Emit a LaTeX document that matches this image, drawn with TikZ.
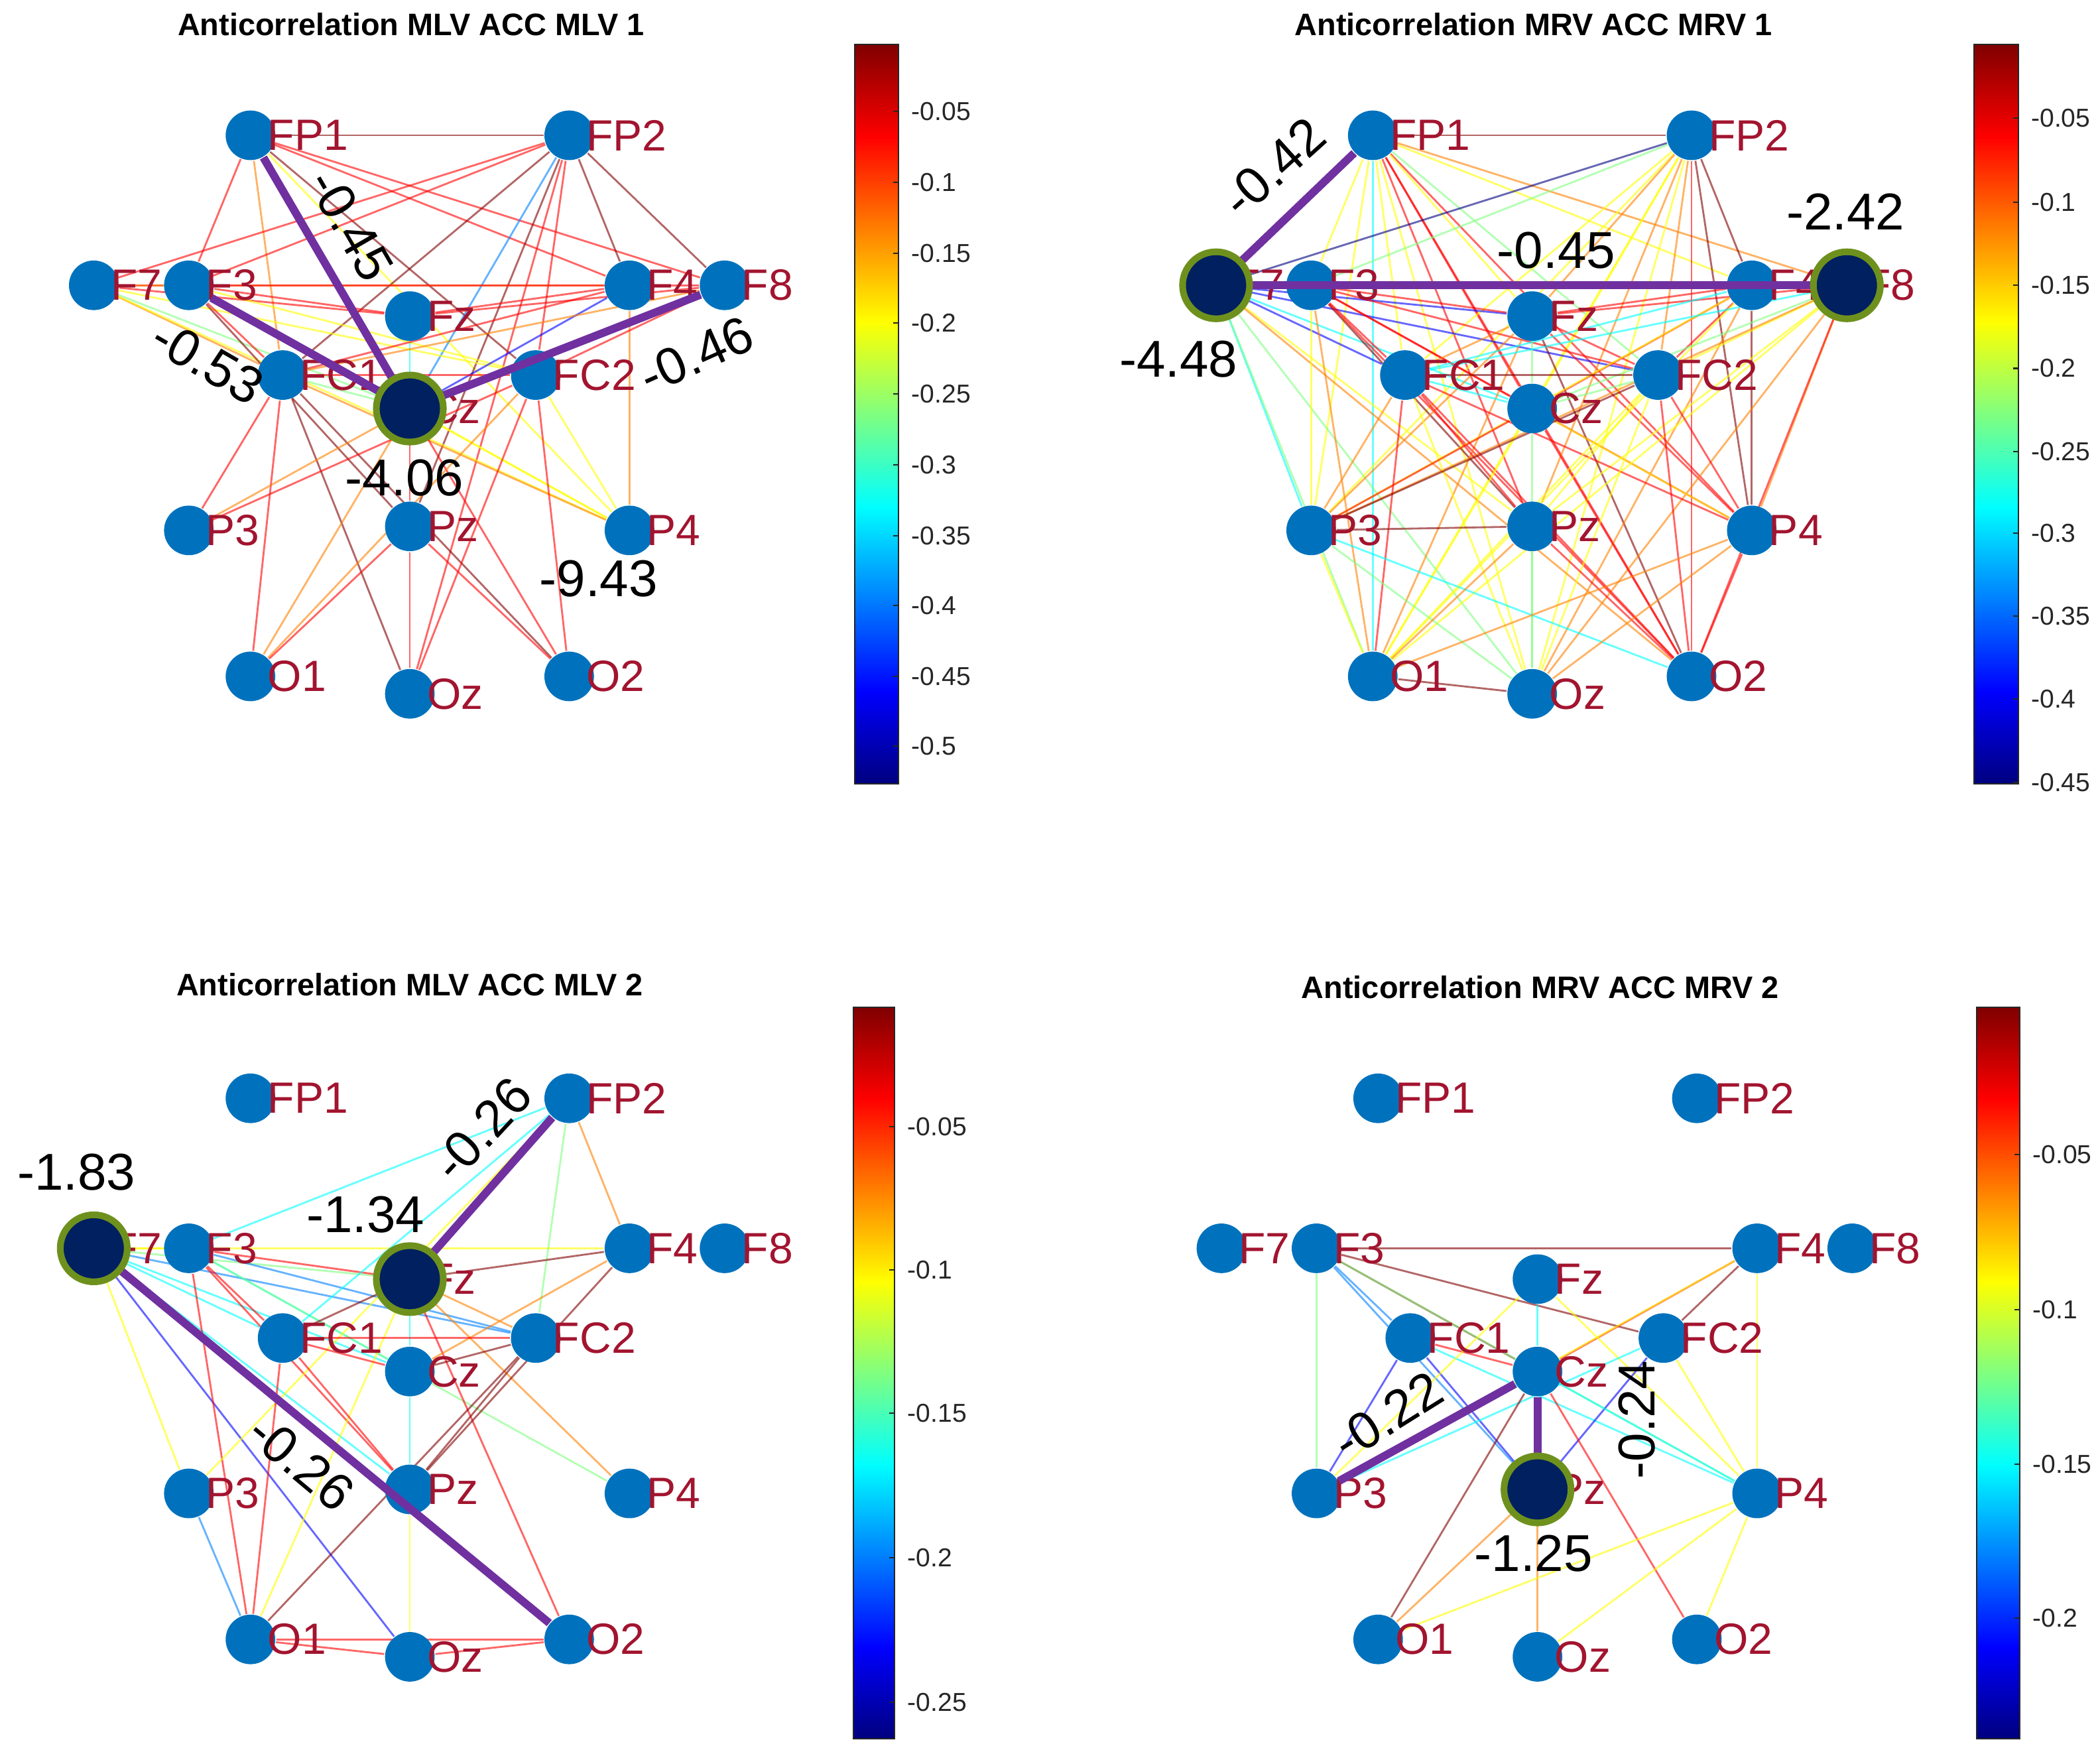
\documentclass[tikz,border=0pt]{standalone}
\usepackage{fontspec}
\setmainfont{Liberation Sans}
\usetikzlibrary{positioning}
\pgfdeclarelayer{background}
\pgfsetlayers{background,main}

\definecolor{nodeblue}{RGB}{0,114,189}
\definecolor{labelred}{RGB}{162,20,47}
\definecolor{hubfill}{RGB}{0,32,96}
\definecolor{hubring}{RGB}{110,145,30}
\definecolor{hubedge}{RGB}{112,48,160}
\definecolor{axisgray}{RGB}{38,38,38}
% jet colormap steps
\definecolor{jet0}{rgb}{0,0,0.5}
\definecolor{jet1}{rgb}{0,0,1}
\definecolor{jet2}{rgb}{0,0.5,1}
\definecolor{jet3}{rgb}{0,1,1}
\definecolor{jet4}{rgb}{0.5,1,0.5}
\definecolor{jet5}{rgb}{1,1,0}
\definecolor{jet6}{rgb}{1,0.5,0}
\definecolor{jet7}{rgb}{1,0,0}
\definecolor{jet8}{rgb}{0.5,0,0}

\tikzset{
  electrode/.style={circle, fill=nodeblue, minimum size=0.37cm, inner sep=0pt},
  elabel/.style={text=labelred, font=\fontsize{9.3}{10}\selectfont, inner sep=0pt, xshift=-0.07cm},
  hub/.style={circle, fill=hubfill, draw=hubring, line width=0.05cm, minimum size=0.5cm, inner sep=0pt},
  link/.style={line width=0.4pt, opacity=0.6},
  hublink/.style={draw=hubedge, line width=1.7pt},
  num/.style={font=\fontsize{11}{12}\selectfont, inner sep=0pt},
  title/.style={font=\bfseries\fontsize{6.6}{7}\selectfont, text=black, inner sep=0pt},
  tick/.style={font=\fontsize{5.5}{6}\selectfont, text=axisgray, anchor=west, inner sep=0pt}
}

% electrode layout, #1 prefix, #2/#3 offset (px)
\newcommand{\electrodes}[3]{%
  \foreach \n/\x/\y in {FP1/187/101, FP2/425/101, F7/70/213, F3/141/213, Fz/306/236,
      F4/470/213, F8/541/213, FC1/211/280, Cz/306/305, FC2/400/280, P3/141/396,
      Pz/306/393, P4/470/396, O1/187/505, Oz/306/518, O2/425/505}
    \node[electrode, label={[elabel]0:\n}] (#1\n) at (\x+#2,\y+#3) {};
}

% thin coloured links behind the electrodes
\newcommand{\links}[2]{%
  \begin{pgfonlayer}{background}
  \foreach \a/\b/\c in {#2}
    \draw[link, draw=\c] (#1\a) -- (#1\b);
  \end{pgfonlayer}
}

% colorbar: left, right, top, bottom, ticks
\newcommand{\jetbar}[5]{%
  \pgfmathsetmacro\hb{#4-#3}
  \shade[bottom color=jet0, top color=jet1] (#1,#4) rectangle (#2,{#4-0.125*\hb});
  \shade[bottom color=jet1, top color=jet3] (#1,{#4-0.124*\hb}) rectangle (#2,{#4-0.375*\hb});
  \shade[bottom color=jet3, top color=jet5] (#1,{#4-0.374*\hb}) rectangle (#2,{#4-0.625*\hb});
  \shade[bottom color=jet5, top color=jet7] (#1,{#4-0.624*\hb}) rectangle (#2,{#4-0.875*\hb});
  \shade[bottom color=jet7, top color=jet8] (#1,{#4-0.874*\hb}) rectangle (#2,#3);
  \draw[axisgray, line width=0.3pt] (#1,#3) rectangle (#2,#4);
  \foreach \v/\t in {#5} {
    \draw[axisgray, line width=0.3pt] (#2,\t) -- ++(-4,0);
    \node[tick] at (#2+9,\t) {\v};
  }
}

\begin{document}
\begin{tikzpicture}[x=0.01cm, y=-0.01cm]
\useasboundingbox (0,0) rectangle (1568,1308);

% ---- MLV 1
\node[title] (atitle) at (307,18) {Anticorrelation MLV ACC MLV 1};
\electrodes{a}{0}{0}
\links{a}{FP1/FP2/jet8, FP1/F3/jet7, FP1/FC1/jet6, FP1/F4/jet7, FP1/F8/jet7, FP1/P4/jet5, FP1/FC2/jet8,
  FP2/F7/jet7, FP2/F3/jet7, FP2/FC1/jet8, FP2/Cz/jet2, FP2/FC2/jet7, FP2/Oz/jet7, FP2/F4/jet8, FP2/F8/jet8, FP2/Pz/jet8,
  F7/F3/jet7, F7/F4/jet6, F7/Fz/jet7, F7/FC1/jet6, F7/FC2/jet5, F7/Cz/jet4, F7/P4/jet5,
  F3/Fz/jet7, F3/F8/jet7, F3/FC2/jet5, F3/P4/jet5, F3/FC1/jet7, F3/Pz/jet8,
  Fz/F4/jet7, Fz/F8/jet7, Fz/Cz/jet3, F4/Cz/jet1, F4/FC1/jet7, F4/P4/jet6, F8/FC1/jet6, F8/FC2/jet7,
  FC1/Cz/jet4, FC1/FC2/jet7, FC1/P3/jet7, FC1/O1/jet7, FC1/Oz/jet8, FC1/O2/jet8, FC1/P4/jet6,
  Cz/P3/jet6, Cz/O1/jet6, Cz/Pz/jet7, Cz/P4/jet5, Cz/O2/jet7,
  FC2/P3/jet7, FC2/O1/jet6, FC2/Oz/jet7, FC2/O2/jet7, FC2/P4/jet5,
  Pz/O1/jet7, Pz/Oz/jet7, Pz/O2/jet7}
\draw[hublink] (aFP1) -- (aCz);
\draw[hublink] (aF3) -- (aCz);
\draw[hublink] (aF8) -- (aCz);
\node[hub] (aCzhub) at (aCz) {};
\node[num, rotate=-60] (aw1) at (262,168) {-0.45};
\node[num, rotate=-30] (aw2) at (155,270) {-0.53};
\node[num, rotate=24] (aw3) at (520,265) {-0.46};
\node[num] (aw4) at (302,357) {-4.06};
\node[num] (aw5) at (447,432) {-9.43};
\jetbar{638}{671}{33}{585}{-0.05/83, -0.1/136, -0.15/189, -0.2/241, -0.25/294, -0.3/347, -0.35/400, -0.4/452, -0.45/505, -0.5/557}

% ---- MRV 1
\node[title] (btitle) at (1145,18) {Anticorrelation MRV ACC MRV 1};
\electrodes{b}{838}{0}
\links{b}{FP1/FP2/jet8, FP1/F3/jet5, FP1/FC1/jet5, FP1/P3/jet5, FP1/O1/jet3, FP1/Cz/jet7, FP1/Pz/jet7,
  FP1/FC2/jet4, FP1/F8/jet6, FP1/P4/jet7, FP1/O2/jet7, FP1/Fz/jet5, FP1/Oz/jet5, FP1/F4/jet5,
  FP2/F7/jet0, FP2/F3/jet4, FP2/FC1/jet5, FP2/P3/jet5, FP2/O1/jet5, FP2/Fz/jet6, FP2/Cz/jet5,
  FP2/Pz/jet6, FP2/O2/jet7, FP2/F4/jet8, FP2/FC2/jet6, FP2/P4/jet8, FP2/Oz/jet5,
  F7/F3/jet1, F7/Fz/jet1, F7/FC1/jet1, F7/FC2/jet1, F7/Cz/jet3, F7/P3/jet3, F7/O1/jet4,
  F7/Oz/jet4, F7/Pz/jet5, F7/F4/jet2, F7/O2/jet6,
  F3/Fz/jet7, F3/FC1/jet7, F3/Cz/jet7, F3/FC2/jet7, F3/P4/jet7, F3/Pz/jet8, F3/O2/jet7,
  F3/P3/jet5, F3/O1/jet6, F3/F8/jet6,
  Fz/F4/jet7, Fz/F8/jet7, Fz/FC1/jet6, Fz/FC2/jet7, Fz/Cz/jet4, Fz/P3/jet6, Fz/O1/jet6,
  Fz/P4/jet7, Fz/O2/jet8,
  F4/FC1/jet3, F4/Cz/jet7, F4/FC2/jet7, F4/P4/jet8, F4/P3/jet5, F4/O1/jet5, F4/Oz/jet6,
  F8/FC1/jet3, F8/Cz/jet4, F8/FC2/jet5, F8/P4/jet6, F8/P3/jet6, F8/O1/jet5, F8/Oz/jet6,
  F8/O2/jet7, F8/Pz/jet5,
  FC1/FC2/jet8, FC1/Cz/jet3, FC1/P4/jet7, FC1/O2/jet7, FC1/Pz/jet7, FC1/Oz/jet5, FC1/O1/jet7, FC1/P3/jet6,
  Cz/FC2/jet4, Cz/P3/jet7, Cz/O2/jet7, Cz/O1/jet5, Cz/Oz/jet4, Cz/P4/jet5,
  FC2/P3/jet8, FC2/O1/jet5, FC2/Oz/jet5, FC2/O2/jet7, FC2/P4/jet7, FC2/Pz/jet5,
  P3/Pz/jet8, P3/O2/jet3, P3/O1/jet5, P3/Oz/jet4,
  Pz/O2/jet7, Pz/O1/jet6, Pz/Oz/jet4, P4/O1/jet6, P4/O2/jet7, P4/Oz/jet6, O1/Oz/jet8}
\draw[hublink] (bF7) -- (bFP1);
\draw[hublink] (bF7) -- (bF8);
\node[hub] (bF7hub) at (bF7) {};
\node[hub] (bF8hub) at (bF8) {};
\node[num, rotate=42] (bw1) at (951,125) {-0.42};
\node[num] (bw2) at (1162,187) {-0.45};
\node[num] (bw3) at (880,268) {-4.48};
\node[num] (bw4) at (1378,158) {-2.42};
\jetbar{1474}{1507}{33}{585}{-0.05/88, -0.1/151, -0.15/213, -0.2/275, -0.25/337, -0.3/398, -0.35/460, -0.4/522, -0.45/584}

% ---- MLV 2
\node[title] (ctitle) at (306,735) {Anticorrelation MLV ACC MLV 2};
\electrodes{c}{0}{719}
\links{c}{F7/F3/jet5, F7/F4/jet5, F7/Fz/jet4, F7/FC1/jet3, F7/Cz/jet3, F7/FC2/jet2, F7/Pz/jet3,
  F7/P3/jet5, F7/Oz/jet1,
  F3/FP2/jet3, F3/Fz/jet7, F3/FC1/jet7, F3/Cz/jet3, F3/FC2/jet2, F3/Pz/jet7, F3/O1/jet7, F3/P4/jet4,
  FP2/FC1/jet3, FP2/FC2/jet4, FP2/F4/jet6, FP2/P3/jet5,
  Fz/F4/jet8, Fz/FC1/jet8, Fz/Cz/jet3, Fz/FC2/jet6, Fz/P4/jet6, Fz/O2/jet7, Fz/O1/jet5,
  F4/Cz/jet6, F4/Pz/jet8, FC1/FC2/jet7, FC1/Cz/jet7, FC1/O1/jet7, FC1/Pz/jet7,
  Cz/FC2/jet8, Cz/Pz/jet3, FC2/O1/jet8, FC2/Pz/jet8,
  P3/O1/jet2, Pz/Oz/jet5, O1/Oz/jet7, O1/O2/jet7, Oz/O2/jet7}
\draw[hublink] (cFz) -- (cFP2);
\draw[hublink] (cF7) -- (cO2);
\node[hub] (cF7hub) at (cF7) {};
\node[hub] (cFzhub) at (cFz) {};
\node[num] (cw1) at (57,875) {-1.83};
\node[num] (cw2) at (273,907) {-1.34};
\node[num, rotate=47] (cw3) at (360,843) {-0.26};
\node[num, rotate=-40] (cw4) at (225,1092) {-0.26};
\jetbar{637}{668}{752}{1298}{-0.05/841, -0.1/948, -0.15/1055, -0.2/1163, -0.25/1271}

% ---- MRV 2
\node[title] (dtitle) at (1150,737) {Anticorrelation MRV ACC MRV 2};
\electrodes{d}{842}{719}
\links{d}{F3/F4/jet8, F3/P3/jet4, F3/FC1/jet2, F3/Cz/jet8, F3/FC2/jet8, F3/P4/jet4, F3/Pz/jet2,
  F4/Cz/jet7, F4/FC2/jet8, F4/P3/jet5, F4/P4/jet5,
  FC1/Cz/jet7, FC1/P3/jet1, FC1/Pz/jet1, FC1/P4/jet3,
  Fz/Cz/jet3, Fz/P3/jet5, Fz/P4/jet5,
  FC2/P3/jet3, FC2/Pz/jet1, FC2/P4/jet5,
  Cz/O1/jet8, Cz/O2/jet7, Cz/P4/jet3,
  Pz/O1/jet6, Pz/Oz/jet6, P4/O1/jet5, P4/Oz/jet5, P4/O2/jet5}
\draw[hublink] (dCz) -- (dP3);
\draw[hublink] (dCz) -- (dPz);
\node[hub] (dPzhub) at (dPz) {};
\node[num, rotate=32] (dw1) at (1036,1057) {-0.22};
\node[num, rotate=90] (dw2) at (1222,1060) {-0.24};
\node[num] (dw3) at (1145,1160) {-1.25};
\jetbar{1476}{1508}{752}{1298}{-0.05/862, -0.1/978, -0.15/1093, -0.2/1208}
\end{tikzpicture}
\end{document}
